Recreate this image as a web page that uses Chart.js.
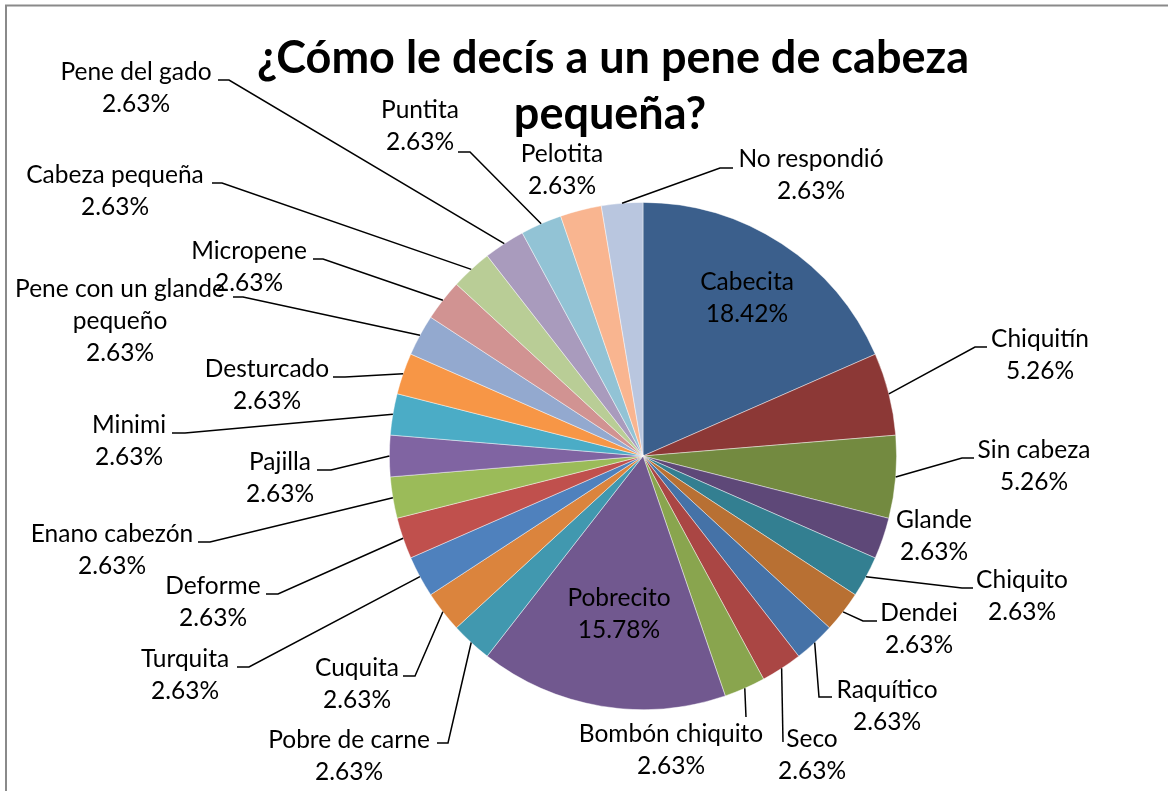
<!DOCTYPE html>
<html lang="es">
  <head>
    <meta charset="UTF-8" />
    <title>Pene de cabeza pequeña</title>
    <script src="https://cdn.jsdelivr.net/npm/chart.js"></script>
    <style>
      html,
      body {
        margin: 0;
        padding: 0;
        background: #fff;
      }
      #wrap {
        width: 1168px;
        height: 791px;
      }
    </style>
  </head>
  <body>
    <div id="wrap">
      <canvas id="myChart" width="1168" height="791"></canvas>
    </div>
  </body>
  <script>
    const titleLines = ["¿Cómo le decís a un pene de cabeza", "pequeña?"];

    const categories = [
      "Cabecita", "Chiquitín", "Sin cabeza", "Glande", "Chiquito", "Dendei",
      "Raquítico", "Seco", "Bombón chiquito", "Pobrecito", "Pobre de carne",
      "Cuquita", "Turquita", "Deforme", "Enano cabezón", "Pajilla", "Minimi",
      "Desturcado", "Pene con un glande pequeño", "Micropene", "Cabeza pequeña",
      "Pene del gado", "Puntita", "Pelotita", "No respondió",
    ];

    const percents = [
      18.42, 5.26, 5.26, 2.63, 2.63, 2.63, 2.63, 2.63, 2.63, 15.78, 2.63, 2.63,
      2.63, 2.63, 2.63, 2.63, 2.63, 2.63, 2.63, 2.63, 2.63, 2.63, 2.63, 2.63, 2.63,
    ];

    const colors = [
      "#3b5f8c", "#8c3836", "#738a40", "#5e4878", "#337f91", "#b87033",
      "#4572a7", "#aa4644", "#89a54e", "#71588f", "#4198af", "#db843d",
      "#4f81bd", "#c0504d", "#9bbb59", "#8064a2", "#4bacc6", "#f79646",
      "#93a9cf", "#d19392", "#b9cd96", "#a99bbd", "#92c3d5", "#f9b590", "#b9c6df",
    ];

    // label layout: [center x, first line baseline], name lines split by "\n"
    const labelText = categories.slice();
    labelText[18] = "Pene con un glande\npequeño";
    const labelAt = [
      [747, 290], [1040, 347], [1034, 458], [934, 528], [1022, 588], [919, 621],
      [887, 698], [812, 747], [671, 742], [619, 606], [349, 748], [357, 676],
      [185, 667], [213, 594], [112, 542], [280, 470], [129, 433], [267, 377],
      [120, 297], [249, 259], [115, 183], [136, 80], [420, 118], [562, 162], [811, 167],
    ];
    // leader lines: points after the slice edge (null = no line)
    const leaders = [
      null,
      [[975, 347], [987, 347]],
      [[962, 458], [974, 458]],
      null,
      [[962, 588], [973, 588]],
      [[863, 621], [877, 621]],
      [[819, 697], [832, 697]],
      [[783, 742]],
      [[746, 717]],
      null,
      [[448, 743], [437, 743]],
      [[415, 676], [403, 676]],
      [[249, 667], [237, 667]],
      [[278, 594], [266, 594]],
      [[210, 542], [198, 542]],
      [[331, 470], [317, 470]],
      [[185, 433], [172, 433]],
      [[345, 377], [333, 377]],
      [[243, 297], [233, 297]],
      [[323, 259], [313, 259]],
      [[222, 183], [212, 183]],
      [[229, 80], [218, 80]],
      [[470, 152], [458, 152]],
      null,
      [[720, 168], [733, 168]],
    ];

    const FONT = "Lato, 'DejaVu Sans', sans-serif";

    const pieDecor = {
      id: "pieDecor",
      beforeDraw(chart) {
        const c = chart.ctx;
        c.save();
        c.strokeStyle = "#8a8a8a";
        c.lineWidth = 2;
        c.strokeRect(6, 5.5, 1300, 900);
        c.restore();
      },
      afterDraw(chart) {
        const c = chart.ctx;
        const arcs = chart.getDatasetMeta(0).data;
        c.save();
        // title
        c.fillStyle = "#000";
        c.textAlign = "center";
        c.textBaseline = "alphabetic";
        c.font = "bold 45px " + FONT;
        c.fillText(titleLines[0], 613, 73);
        c.fillText(titleLines[1], 610, 129);

        // leader lines
        c.strokeStyle = "#000";
        c.lineWidth = 1.5;
        arcs.forEach((arc, i) => {
          if (!leaders[i]) return;
          const p = arc.getProps(["x", "y", "startAngle", "endAngle", "outerRadius"], true);
          const mid = (p.startAngle + p.endAngle) / 2;
          c.beginPath();
          c.moveTo(p.x + p.outerRadius * Math.cos(mid), p.y + p.outerRadius * Math.sin(mid));
          leaders[i].forEach((pt) => c.lineTo(pt[0], pt[1]));
          c.stroke();
        });

        // labels
        c.font = "24.5px " + FONT;
        labelText.forEach((name, i) => {
          const lines = name.split("\n");
          lines.push(percents[i].toFixed(2) + "%");
          const [x, y] = labelAt[i];
          lines.forEach((ln, k) => c.fillText(ln, x, y + k * 32));
        });
        c.restore();
      },
    };

    const ctx = document.getElementById("myChart");
    const myChart = new Chart(ctx, {
      type: "pie",
      data: {
        labels: categories,
        datasets: [
          {
            data: percents,
            backgroundColor: colors,
            borderColor: "rgba(255,255,255,0.55)",
            borderWidth: 0.8,
          },
        ],
      },
      options: {
        responsive: false,
        animation: false,
        devicePixelRatio: 1,
        layout: {
          padding: { top: 202, bottom: 81, left: 389, right: 271 },
        },
        plugins: {
          legend: { display: false },
          tooltip: { enabled: false },
        },
      },
      plugins: [pieDecor],
    });
  </script>
</html>
